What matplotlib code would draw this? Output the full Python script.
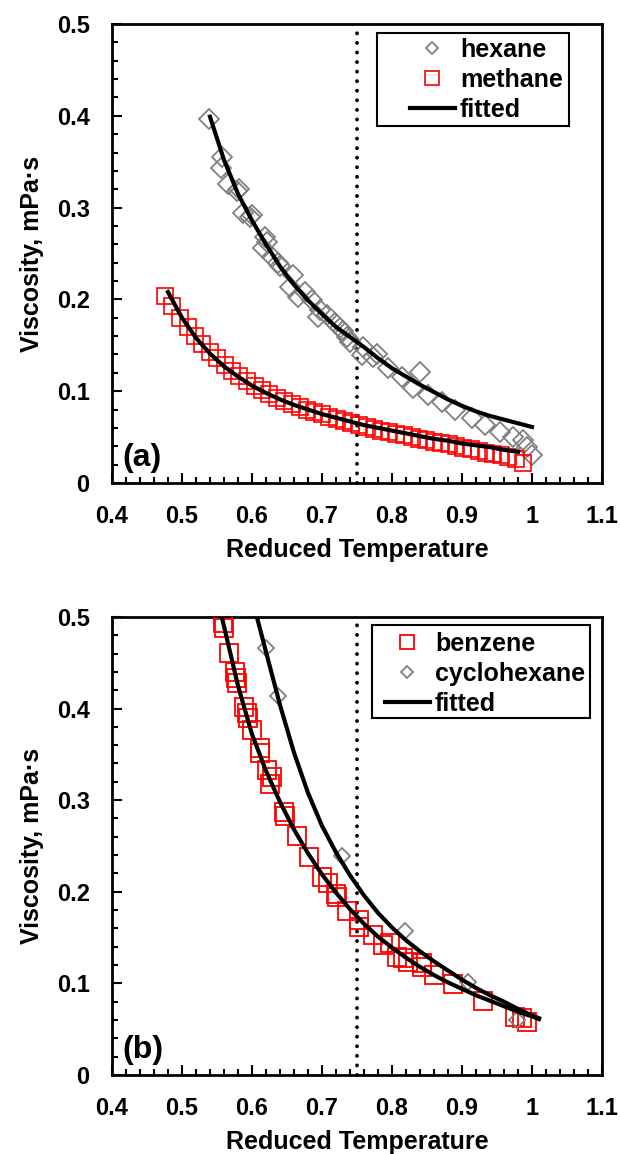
import matplotlib
matplotlib.use("Agg")
import matplotlib.pyplot as plt
from matplotlib.patches import Rectangle
from matplotlib.ticker import MultipleLocator, FuncFormatter

plt.rcParams['font.family'] = ['Liberation Sans', 'DejaVu Sans']
plt.rcParams['font.weight'] = 'bold'

# ---- panel (a): hexane and methane ----
hexane_tr = [0.539, 0.556, 0.557, 0.566, 0.579, 0.581, 0.587, 0.597, 0.600, 0.616,
             0.618, 0.622, 0.629, 0.637, 0.640, 0.654, 0.659, 0.666, 0.676, 0.686,
             0.694, 0.697, 0.707, 0.719, 0.726, 0.730, 0.736, 0.740, 0.757, 0.759,
             0.773, 0.778, 0.794, 0.814, 0.830, 0.840, 0.851, 0.871, 0.890, 0.914,
             0.933, 0.954, 0.973, 0.987, 0.993, 1.000]
hexane_mu = [0.396, 0.343, 0.355, 0.326, 0.318, 0.320, 0.294, 0.290, 0.292, 0.256,
             0.268, 0.262, 0.246, 0.240, 0.236, 0.214, 0.227, 0.203, 0.208, 0.199,
             0.181, 0.188, 0.183, 0.174, 0.169, 0.165, 0.159, 0.154, 0.139, 0.148,
             0.137, 0.140, 0.125, 0.115, 0.103, 0.121, 0.096, 0.088, 0.079, 0.071,
             0.063, 0.056, 0.050, 0.047, 0.039, 0.030]

methane_tr = [0.476, 0.486, 0.497, 0.508, 0.518, 0.529, 0.540, 0.550, 0.561, 0.572,
              0.582, 0.593, 0.604, 0.614, 0.625, 0.636, 0.646, 0.657, 0.668, 0.678,
              0.689, 0.700, 0.710, 0.721, 0.732, 0.742, 0.753, 0.764, 0.774, 0.785,
              0.796, 0.806, 0.817, 0.828, 0.838, 0.849, 0.860, 0.870, 0.881, 0.892,
              0.902, 0.913, 0.924, 0.934, 0.945, 0.956, 0.966, 0.977, 0.987]
methane_mu = [0.204, 0.193, 0.180, 0.170, 0.160, 0.151, 0.143, 0.136, 0.129, 0.122,
              0.116, 0.111, 0.106, 0.101, 0.097, 0.093, 0.089, 0.086, 0.083, 0.080,
              0.077, 0.075, 0.072, 0.070, 0.067, 0.065, 0.063, 0.061, 0.059, 0.057,
              0.055, 0.053, 0.052, 0.050, 0.048, 0.047, 0.045, 0.043, 0.042, 0.040,
              0.038, 0.037, 0.035, 0.033, 0.032, 0.030, 0.028, 0.026, 0.022]

hexane_fit_tr = [0.54, 0.56, 0.58, 0.60, 0.62, 0.64, 0.66, 0.68, 0.70, 0.72, 0.74,
                 0.76, 0.78, 0.80, 0.82, 0.84, 0.86, 0.88, 0.90, 0.92, 0.94, 0.96,
                 0.98, 1.00]
hexane_fit_mu = [0.399, 0.352, 0.315, 0.286, 0.260, 0.236, 0.216, 0.199, 0.184, 0.170,
                 0.159, 0.148, 0.136, 0.125, 0.116, 0.107, 0.099, 0.091, 0.084, 0.078,
                 0.073, 0.069, 0.065, 0.061]

methane_fit_tr = [0.48, 0.50, 0.52, 0.54, 0.56, 0.58, 0.60, 0.62, 0.64, 0.66, 0.68,
                  0.70, 0.72, 0.74, 0.76, 0.78, 0.80, 0.82, 0.84, 0.86, 0.88, 0.90,
                  0.92, 0.94, 0.96, 0.98]
methane_fit_mu = [0.208, 0.180, 0.158, 0.141, 0.127, 0.116, 0.106, 0.098, 0.091, 0.085,
                  0.080, 0.075, 0.071, 0.067, 0.063, 0.060, 0.057, 0.054, 0.051, 0.048,
                  0.046, 0.043, 0.041, 0.039, 0.036, 0.034]

# ---- panel (b): benzene and cyclohexane ----
benzene_tr = [0.559, 0.560, 0.567, 0.576, 0.577, 0.578, 0.588, 0.593, 0.594, 0.600,
              0.612, 0.612, 0.621, 0.626, 0.629, 0.646, 0.647, 0.664, 0.682, 0.700,
              0.709, 0.720, 0.722, 0.736, 0.753, 0.753, 0.773, 0.787, 0.797, 0.807,
              0.816, 0.823, 0.843, 0.843, 0.860, 0.887, 0.930, 0.976, 0.986, 0.993]
benzene_mu = [0.493, 0.488, 0.461, 0.440, 0.433, 0.428, 0.402, 0.395, 0.390, 0.377,
              0.357, 0.351, 0.333, 0.318, 0.325, 0.287, 0.283, 0.261, 0.238, 0.216,
              0.210, 0.197, 0.194, 0.179, 0.169, 0.162, 0.153, 0.142, 0.144, 0.129,
              0.128, 0.123, 0.118, 0.122, 0.109, 0.099, 0.081, 0.063, 0.062, 0.058]

cyclohexane_tr = [0.620, 0.637, 0.729, 0.819, 0.909, 0.978]
cyclohexane_mu = [0.466, 0.414, 0.239, 0.157, 0.102, 0.060]

benzene_fit_tr = [0.557, 0.56, 0.58, 0.60, 0.62, 0.64, 0.66, 0.68, 0.70, 0.72, 0.74,
                  0.76, 0.78, 0.80, 0.82, 0.84, 0.86, 0.88, 0.90, 0.92, 0.94, 0.96,
                  0.98, 1.00, 1.01]
benzene_fit_mu = [0.500, 0.490, 0.425, 0.372, 0.332, 0.298, 0.268, 0.242, 0.219, 0.199,
                  0.181, 0.165, 0.151, 0.139, 0.128, 0.118, 0.109, 0.101, 0.094, 0.087,
                  0.081, 0.075, 0.069, 0.064, 0.061]

cyclohexane_fit_tr = [0.607, 0.62, 0.64, 0.66, 0.68, 0.70, 0.72, 0.74, 0.76, 0.78, 0.80,
                      0.82, 0.84, 0.86, 0.88, 0.90, 0.92, 0.94, 0.96, 0.98, 1.00, 1.01]
cyclohexane_fit_mu = [0.500, 0.462, 0.404, 0.352, 0.308, 0.272, 0.243, 0.218, 0.196,
                      0.177, 0.161, 0.147, 0.135, 0.124, 0.114, 0.104, 0.095, 0.087,
                      0.080, 0.072, 0.065, 0.062]

critical_split = 0.75
x_ticks = [0.4, 0.5, 0.6, 0.7, 0.8, 0.9, 1.0, 1.1]
y_ticks = [0.0, 0.1, 0.2, 0.3, 0.4, 0.5]

GRAY = '#808080'
RED = '#ff0000'
TICK_FS = 17
LABEL_FS = 18


def fmt(v, _pos):
    if abs(v) < 1e-9:
        return '0'
    s = f'{v:.1f}'
    return '1' if s == '1.0' else s


def style_axes(ax, tag):
    ax.set_xlim(0.4, 1.1)
    ax.set_ylim(0, 0.5)
    ax.set_xticks(x_ticks)
    ax.set_yticks(y_ticks)
    ax.xaxis.set_minor_locator(MultipleLocator(0.02))
    ax.yaxis.set_minor_locator(MultipleLocator(0.02))
    ax.xaxis.set_major_formatter(FuncFormatter(fmt))
    ax.yaxis.set_major_formatter(FuncFormatter(fmt))
    ax.tick_params(which='both', direction='in', top=False, right=False,
                   labelsize=TICK_FS, width=1.5, pad=16)
    ax.tick_params(which='major', length=7)
    ax.tick_params(which='minor', length=4.5)
    for lab in ax.get_xticklabels() + ax.get_yticklabels():
        lab.set_fontweight('bold')
    for sp in ax.spines.values():
        sp.set_linewidth(2.0)
    ax.set_xlabel('Reduced Temperature', fontsize=LABEL_FS, fontweight='bold', labelpad=7)
    ax.set_ylabel('Viscosity, mPa·s', fontsize=LABEL_FS, fontweight='bold', labelpad=9)
    ax.axvline(critical_split, color='black', lw=2.8,
               linestyle=(0, (0.01, 2.45)), dash_capstyle='round', zorder=1)
    ax.text(0.022, 0.022, tag, transform=ax.transAxes, fontsize=23,
            fontweight='bold', ha='left', va='bottom')


def add_legend(ax, anchor, box, sizes):
    leg = ax.legend(loc='upper left', bbox_to_anchor=anchor,
                    prop={'weight': 'bold', 'size': LABEL_FS}, frameon=False,
                    handlelength=1.8, handletextpad=0.2, labelspacing=0.24,
                    borderpad=0, borderaxespad=0)
    for h, ms in zip(leg.legend_handles, sizes):
        if ms:
            h.set_markersize(ms)
    ax.add_patch(Rectangle(box[:2], box[2], box[3], transform=ax.transAxes,
                           fill=False, ec='black', lw=1.5, zorder=5))
    return leg


fig = plt.figure(figsize=(6.2, 11.54), dpi=100)
ax1 = fig.add_axes([0.1806, 0.5815, 0.7903, 0.3977])
ax2 = fig.add_axes([0.1806, 0.0685, 0.7903, 0.3969])

# panel (a)
style_axes(ax1, '(a)')
ax1.plot(hexane_tr, hexane_mu, linestyle='none', marker='D', ms=10.5,
         mfc='none', mec=GRAY, mew=1.3, label='hexane', zorder=3)
ax1.plot(methane_tr, methane_mu, linestyle='none', marker='s', ms=11.5,
         mfc='none', mec=RED, mew=1.2, label='methane', zorder=3)
ax1.plot(hexane_fit_tr, hexane_fit_mu, color='black', lw=3, label='fitted', zorder=4)
ax1.plot(methane_fit_tr, methane_fit_mu, color='black', lw=3, zorder=4)
add_legend(ax1, (0.608, 0.970), (0.541, 0.778, 0.392, 0.202), [6.5, 9.5, None])

# panel (b)
style_axes(ax2, '(b)')
ax2.plot(benzene_tr, benzene_mu, linestyle='none', marker='s', ms=13.5,
         mfc='none', mec=RED, mew=1.3, label='benzene', zorder=3)
ax2.plot(cyclohexane_tr, cyclohexane_mu, linestyle='none', marker='D', ms=8,
         mfc='none', mec=GRAY, mew=1.3, label='cyclohexane', zorder=3)
ax2.plot(benzene_fit_tr, benzene_fit_mu, color='black', lw=3, label='fitted', zorder=4)
ax2.plot(cyclohexane_fit_tr, cyclohexane_fit_mu, color='black', lw=3, zorder=4)
add_legend(ax2, (0.557, 0.968), (0.531, 0.779, 0.445, 0.204), [9.5, 6.5, None])

fig.savefig('out.png', dpi=100)
